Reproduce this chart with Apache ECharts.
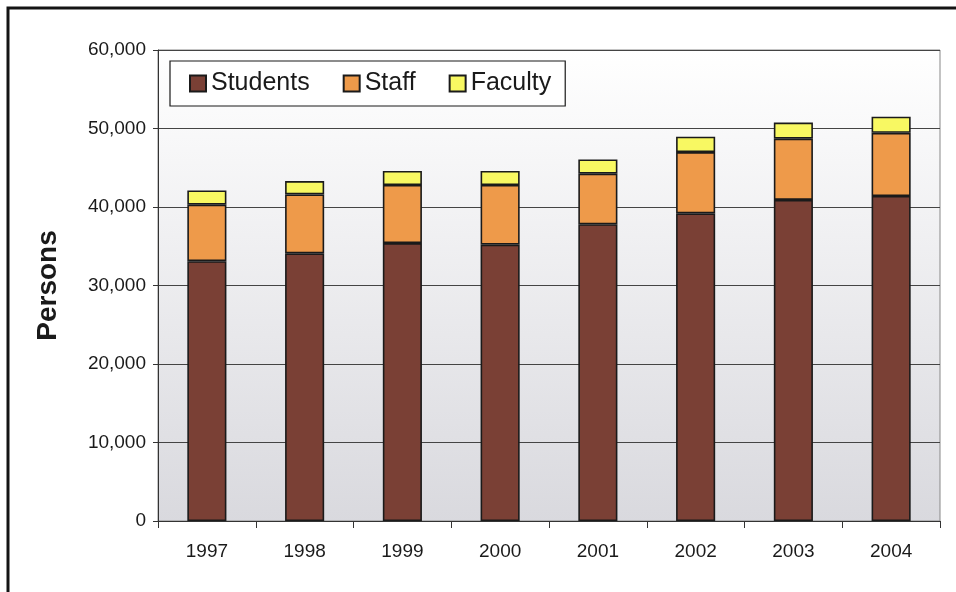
<!DOCTYPE html>
<html lang="en">
<head>
    <meta charset="utf-8" />
    <title>Persons</title>
    <style>
        html, body { margin: 0; padding: 0; background: #fff; }
    </style>
</head>
<body>
    <div id="main" style="width:956px;height:592px;"></div>
    <script src="https://cdn.jsdelivr.net/npm/echarts@6/dist/echarts.min.js"></script>
    <script>
        // chart data
        var years = ['1997', '1998', '1999', '2000', '2001', '2002', '2003', '2004'];
        var students = [33100, 34100, 35400, 35200, 37800, 39200, 40900, 41400];
        var staff = [7200, 7500, 7400, 7600, 6450, 7800, 7800, 8050];
        var faculty = [1800, 1700, 1800, 1800, 1800, 1950, 2050, 2050];
        var seriesNames = ['Students', 'Staff', 'Faculty'];
        var seriesColors = ['#7a4035', '#ee9a4a', '#f8f862'];

        var font = 'Arial, "Liberation Sans", sans-serif';

        var myChart = echarts.init(document.getElementById('main'));

        function makeBar(name, values, color) {
            return {
                name: name,
                type: 'bar',
                stack: 'total',
                barWidth: '40%',
                data: values,
                itemStyle: {
                    color: color,
                    borderColor: '#1a1a1a',
                    borderWidth: 1.6
                }
            };
        }

        var option = {
            backgroundColor: '#ffffff',
            animation: false,
            graphic: [{
                // outer frame
                type: 'rect',
                shape: { x: 8, y: 8, width: 980, height: 620 },
                style: { fill: 'none', stroke: '#141414', lineWidth: 3 },
                silent: true
            }],
            grid: {
                left: 158,
                right: 16,
                top: 50,
                bottom: 71,
                show: true,
                borderColor: '#888',
                borderWidth: 1,
                backgroundColor: new echarts.graphic.LinearGradient(0, 0, 0, 1, [
                    { offset: 0, color: '#ffffff' },
                    { offset: 1, color: '#d9d9de' }
                ])
            },
            legend: {
                left: 170,
                top: 61,
                padding: [10, 14, 10, 19],
                itemGap: 33,
                itemWidth: 16,
                itemHeight: 16,
                backgroundColor: '#ffffff',
                borderColor: '#1a1a1a',
                borderWidth: 1.2,
                borderRadius: 0,
                icon: 'rect',
                textStyle: { fontFamily: font, fontSize: 25, color: '#1a1a1a' },
                data: seriesNames
            },
            xAxis: {
                type: 'category',
                data: years,
                axisLine: { show: true, lineStyle: { color: '#333', width: 1 } },
                axisTick: { show: true, length: 7, inside: false, lineStyle: { color: '#333' } },
                axisLabel: { margin: 21, fontFamily: font, fontSize: 19, color: '#1a1a1a' }
            },
            yAxis: {
                type: 'value',
                min: 0,
                max: 60000,
                interval: 10000,
                name: 'Persons',
                nameLocation: 'middle',
                nameRotate: 90,
                nameGap: 96,
                nameTextStyle: { fontFamily: font, fontSize: 28, fontWeight: 'bold', color: '#1a1a1a' },
                axisLine: { show: true, lineStyle: { color: '#333', width: 1 } },
                axisTick: { show: true, length: 5, inside: false, lineStyle: { color: '#333' } },
                axisLabel: {
                    margin: 12,
                    fontFamily: font,
                    fontSize: 19,
                    color: '#1a1a1a',
                    formatter: function (v) { return v.toLocaleString('en-US'); }
                },
                splitLine: { show: true, lineStyle: { color: '#444', width: 1 } }
            },
            series: [
                makeBar(seriesNames[0], students, seriesColors[0]),
                makeBar(seriesNames[1], staff, seriesColors[1]),
                makeBar(seriesNames[2], faculty, seriesColors[2])
            ]
        };
        myChart.setOption(option);
    </script>
</body>
</html>
